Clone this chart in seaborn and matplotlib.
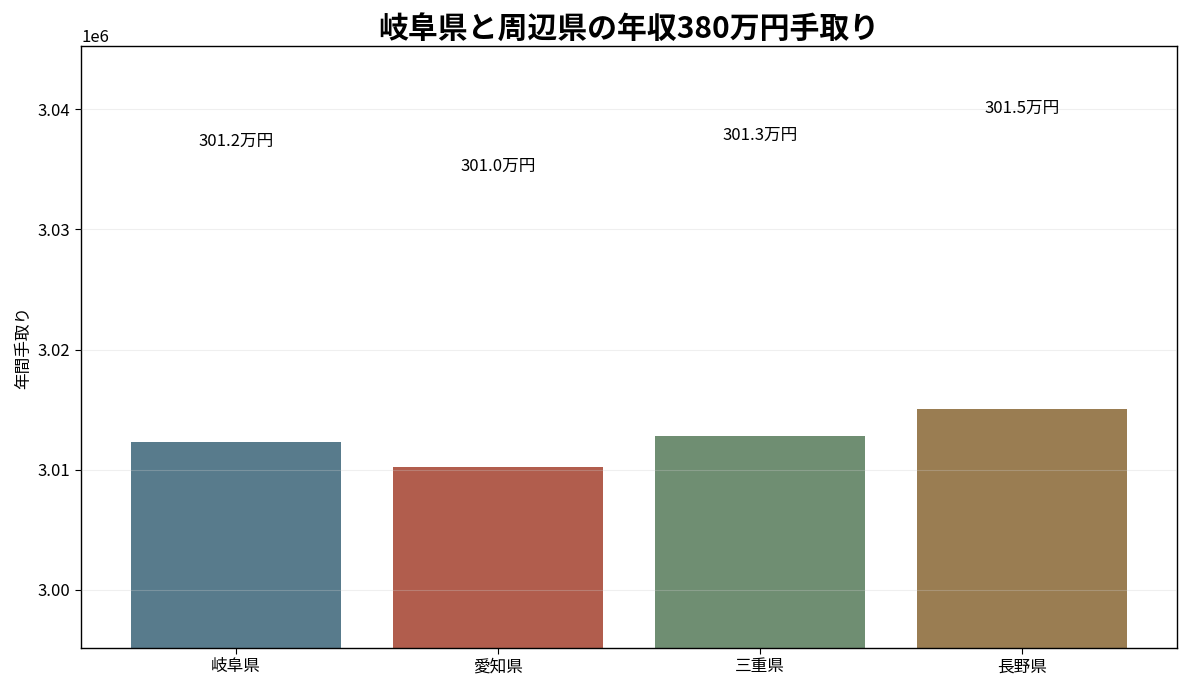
import numpy as np
import pandas as pd
import matplotlib
matplotlib.use("Agg")
import matplotlib.pyplot as plt
import seaborn as sns

sns.set_style("white", rc={"text.color": "black", "axes.labelcolor": "black",
                           "xtick.color": "black", "ytick.color": "black",
                           "axes.edgecolor": "black"})
plt.rcParams['font.family'] = ['Noto Sans CJK JP', 'DejaVu Sans']

# data
prefectures = ["岐阜県", "愛知県", "三重県", "長野県"]
takehome = [3012300, 3010250, 3012800, 3015050]
colors = ["#587b8c", "#b15d4d", "#6f8e72", "#9a7d52"]

df = pd.DataFrame({"pref": prefectures, "value": takehome})

fig, ax = plt.subplots(figsize=(11.88, 6.89), dpi=100)
sns.barplot(data=df, x="pref", y="value", hue="pref", palette=colors,
            width=0.8, saturation=1, legend=False, linewidth=0, ax=ax)

for i, v in enumerate(takehome):
    ax.text(i, v + 25000, f"{v / 10000:.1f}万円", ha="center", va="center", fontsize=12)

ax.set_xlim(-0.59, 3.59)
ax.set_ylim(2995170, 3045250)
ax.set_yticks([3000000, 3010000, 3020000, 3030000, 3040000])
ax.set_title("岐阜県と周辺県の年収380万円手取り", fontsize=21.5, fontweight="bold")
ax.set_xlabel("")
ax.set_ylabel("年間手取り", fontsize=12)
ax.tick_params(axis="both", labelsize=12, length=4, width=0.8, left=True, bottom=True)
ax.yaxis.get_offset_text().set_fontsize(12)
ax.grid(axis="y", alpha=0.3)
ax.set_axisbelow(False)
for p in ax.patches:
    p.set_zorder(1)
for s in ax.spines.values():
    s.set_color("black")
    s.set_linewidth(1)

plt.subplots_adjust(left=0.0682, right=0.9907, top=0.9332, bottom=0.0595)
plt.savefig("out.png", dpi=100)
plt.close()
